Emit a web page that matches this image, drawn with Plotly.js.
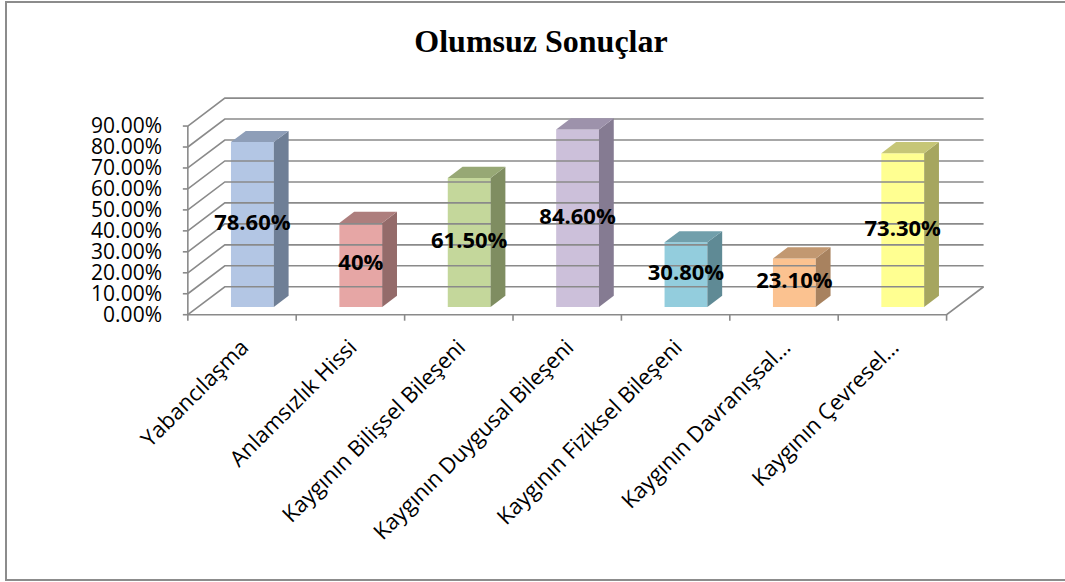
<!DOCTYPE html>
<html><head><meta charset="utf-8">
<script src="https://cdn.plot.ly/plotly-3.0.1.min.js"></script>
<style>
html,body{margin:0;padding:0;background:#fff;}
#chart{width:1065px;height:582px;position:absolute;left:0;top:0;}
#frame{position:absolute;left:5px;top:1px;width:1058px;height:576px;border:2px solid #8c8c8c;pointer-events:none;box-sizing:content-box;}
</style></head><body>
<div id="chart"></div><div id="frame"></div>
<script>
// ---- data ----
const categories = ["Yabancılaşma", "Anlamsızlık Hissi", "Kaygının Bilişsel Bileşeni", "Kaygının Duygusal Bileşeni", "Kaygının Fiziksel Bileşeni", "Kaygının Davranışsal…", "Kaygının Çevresel…"];
const values = [78.6, 40, 61.5, 84.6, 30.8, 23.1, 73.3];
const valueLabels = ["78.60%", "40%", "61.50%", "84.60%", "30.80%", "23.10%", "73.30%"];
const yTickValues = [0, 10, 20, 30, 40, 50, 60, 70, 80, 90];
const yTickLabels = yTickValues.map(v => v.toFixed(2) + "%");

// ---- styles ----
const frontColors = ["#B3C6E4", "#E6A6A5", "#C4D79B", "#CCC0DA", "#93CDDD", "#FBC290", "#FFFF91"];
const topColors   = ["#8E9EB8", "#AD7E7D", "#97A875", "#9D92AB", "#719FAB", "#C29871", "#C6C677"];
const sideColors  = ["#6F7F96", "#946B6A", "#7F8D61", "#857B92", "#5F8A95", "#A8825F", "#A6A65F"];
const gridColor = "#8a8a8a";

// ---- 3D geometry (pixel targets) ----
const W = 1065, H = 582;
const FL = 188, FY = 315;          // front-left corner of floor
const n = categories.length;
const PXU = (947 - FL) / n;         // px per category
const PYU = 2.1;                    // px per percent
const DX = 37 / PXU, DY = 28 / PYU; // depth of the box in data units
const F0 = 0.28, F1 = 0.68, BW = 0.395;
const yMax = yTickValues[yTickValues.length - 1];

const xRange = [-0.6, n - 0.5 + DX + 0.05];
const yRange = [-3, yMax + DY + 1];
const mL = FL + (xRange[0] + 0.5) * PXU;
const mR = W - (FL + (xRange[1] + 0.5) * PXU);
const mB = H - (FY + 3 * PYU);
const mT = FY - (yMax + DY + 1) * PYU;

const traces = [];
// back wall gridlines + left wall diagonals
const gx = [], gy = [];
yTickValues.forEach(t => {
  gx.push(-0.5, -0.5 + DX, n - 0.5 + DX, null);
  gy.push(t, t + DY, t + DY, null);
});
traces.push({type: "scatter", mode: "lines", x: gx, y: gy, line: {color: gridColor, width: 1.6}, hoverinfo: "skip", showlegend: false});

// front axis, floor edges, tick marks
const ax = [-0.5, -0.5, null, -0.5, n - 0.5, n - 0.5 + DX, null];
const ay = [yMax, 0, null, 0, 0, DY, null];
yTickValues.forEach(t => { ax.push(-0.5 - 5 / PXU, -0.5, null); ay.push(t, t, null); });
for (let i = 0; i <= n; i++) { ax.push(i - 0.5, i - 0.5, null); ay.push(0, -6 / PYU, null); }
traces.push({type: "scatter", mode: "lines", x: ax, y: ay, line: {color: gridColor, width: 1.6}, hoverinfo: "skip", showlegend: false});

// front faces of the bars
traces.push({
  type: "bar",
  x: values.map((v, i) => i + F0 * DX),
  y: values,
  base: values.map(() => F0 * DY),
  width: BW,
  marker: {color: frontColors, line: {width: 0}},
  hoverinfo: "skip", showlegend: false
});

// side and top faces
const d = F1 - F0;
values.forEach((v, i) => {
  const xl = i + F0 * DX - BW / 2, xr = i + F0 * DX + BW / 2;
  const b = F0 * DY, tp = v + F0 * DY;
  traces.push({type: "scatter", mode: "lines", fill: "toself",
    x: [xr, xr + d * DX, xr + d * DX, xr, xr],
    y: [b, b + d * DY, tp + d * DY, tp, b],
    fillcolor: sideColors[i], line: {width: 0, color: sideColors[i]}, hoverinfo: "skip", showlegend: false});
  traces.push({type: "scatter", mode: "lines", fill: "toself",
    x: [xl, xr, xr + d * DX, xl + d * DX, xl],
    y: [tp, tp, tp + d * DY, tp + d * DY, tp],
    fillcolor: topColors[i], line: {width: 0, color: topColors[i]}, hoverinfo: "skip", showlegend: false});
});

// data labels
traces.push({type: "scatter", mode: "text",
  x: values.map((v, i) => i + F0 * DX),
  y: values.map(v => v / 2 + F0 * DY),
  text: valueLabels, textposition: "middle center",
  textfont: {family: "Open Sans", size: 22, color: "#000", weight: "bold"},
  cliponaxis: false, hoverinfo: "skip", showlegend: false});

const layout = {
  width: W, height: H,
  paper_bgcolor: "#fff", plot_bgcolor: "rgba(0,0,0,0)",
  margin: {l: mL, r: mR, t: mT, b: mB, pad: 0},
  showlegend: false,
  title: {text: "<b>Olumsuz Sonuçlar</b>", font: {family: "Liberation Serif", size: 32, color: "#000"},
    x: 541 / W, xanchor: "center", xref: "container", y: 1 - 41 / H, yanchor: "middle", yref: "container"},
  xaxis: {range: xRange, tickvals: categories.map((c, i) => i), ticktext: categories, tickangle: -45,
    ticks: "", showgrid: false, zeroline: false, showline: false, automargin: false,
    tickfont: {family: "Open Sans", size: 22, color: "#000"}, ticklabelstandoff: 8},
  yaxis: {range: yRange, tickvals: yTickValues, ticktext: yTickLabels,
    ticks: "", showgrid: false, zeroline: false, showline: false, automargin: false,
    tickfont: {family: "Open Sans", size: 21, color: "#000"}, ticklabelstandoff: 14}
};

Plotly.newPlot("chart", traces, layout, {displayModeBar: false, staticPlot: true});
</script>
</body></html>
